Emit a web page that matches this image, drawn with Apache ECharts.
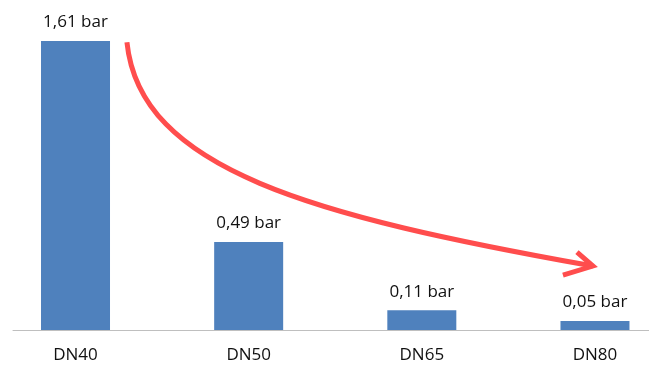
<!DOCTYPE html>
<html><head><meta charset="utf-8">
<script src="https://cdn.jsdelivr.net/npm/echarts@6/dist/echarts.min.js"></script>
<style>html,body{margin:0;padding:0;background:#fff}#c{width:649px;height:368px}</style>
</head><body><div id="c"></div>
<script>
const categories = ['DN40', 'DN50', 'DN65', 'DN80'];
const values = [1.61, 0.49, 0.11, 0.05];
const labelUnit = ' bar';
// arrow annotation anchors in data space [x index, y value]
const arrowCurve = [[0.297, 1.604], [0.3725, 0.891], [1.3715, 0.635], [2.988, 0.3565]];
const arrowHead = [[2.896, 0.4345], [2.988, 0.3565], [2.815, 0.306]];

const chart = echarts.init(document.getElementById('c'));
const font = "'Open Sans', sans-serif";
chart.setOption({
  animation: false,
  grid: { left: 13, right: 0, top: 7, bottom: 38, containLabel: false },
  xAxis: {
    type: 'value', min: -0.361, max: 3.312,
    splitLine: { show: false },
    axisTick: { show: false },
    axisLine: { show: true, lineStyle: { color: '#BFBFBF', width: 1 } },
    axisLabel: {
      show: true, margin: 17, fontFamily: font, fontSize: 17, color: '#111',
      customValues: categories.map((_, i) => i),
      formatter: v => categories[Math.round(v)] || ''
    }
  },
  yAxis: { type: 'value', min: 0, max: 1.8, show: false, splitLine: { show: false } },
  series: [{
    type: 'bar', barWidth: 69,
    itemStyle: { color: '#4F81BD' },
    data: values.map((v, i) => [i, v]),
    label: {
      show: true, position: 'top', distance: 10,
      fontFamily: font, fontSize: 17, color: '#111',
      formatter: p => p.value[1].toFixed(2).replace('.', ',') + labelUnit
    }
  }]
});
const px = p => chart.convertToPixel({ gridIndex: 0 }, p);
const c = arrowCurve.map(px), h = arrowHead.map(px);
chart.setOption({
  graphic: [
    { type: 'bezierCurve', shape: { x1: c[0][0], y1: c[0][1], cpx1: c[1][0], cpy1: c[1][1], cpx2: c[2][0], cpy2: c[2][1], x2: c[3][0], y2: c[3][1] },
      style: { stroke: '#FF4D4D', lineWidth: 5, fill: null, lineCap: 'butt' }, z: 10 },
    { type: 'polyline', shape: { points: h },
      style: { stroke: '#FF4D4D', lineWidth: 5, fill: null, lineJoin: 'miter', lineCap: 'butt' }, z: 10 }
  ]
});
</script></body></html>
